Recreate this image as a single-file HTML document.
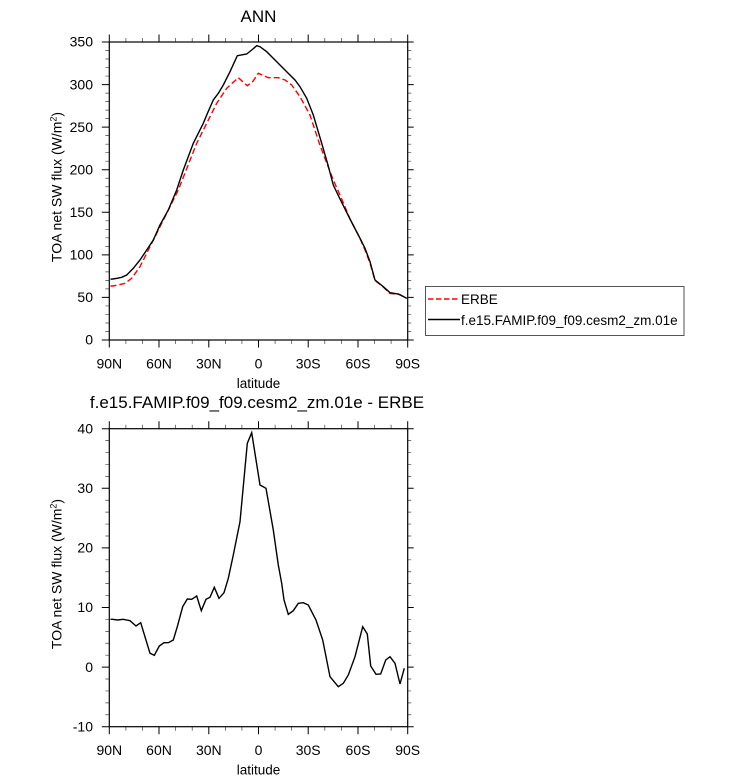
<!DOCTYPE html>
<html><head><meta charset="utf-8"><style>
html,body{margin:0;padding:0;background:#fff;}
svg{display:block;}
text{font-family:"Liberation Sans",Arial,sans-serif;fill:#000;}
</style></head><body>
<svg width="733" height="781" viewBox="0 0 733 781" xmlns="http://www.w3.org/2000/svg">
<rect width="733" height="781" fill="#fff"/>

<!-- ================= TOP PLOT ================= -->
<text x="258.5" y="22" font-size="17" text-anchor="middle">ANN</text>

<!-- x ticks top edge -->
<g transform="translate(0,42)" stroke="#000" fill="none">
<path stroke-width="1" d="M109.3 0v-7.5M159 0v-7.5M208.8 0v-7.5M258.5 0v-7.5M308.2 0v-7.5M358 0v-7.5M407.7 0v-7.5"/>
<path stroke-width="0.7" stroke="#444" d="M125.9 0v-4M142.5 0v-4M175.6 0v-4M192.2 0v-4M225.4 0v-4M241.9 0v-4M275.1 0v-4M291.7 0v-4M324.8 0v-4M341.4 0v-4M374.6 0v-4M391.1 0v-4"/>
</g>
<g transform="translate(0,340)" stroke="#000" fill="none">
<path stroke-width="1" d="M109.3 0v7.5M159 0v7.5M208.8 0v7.5M258.5 0v7.5M308.2 0v7.5M358 0v7.5M407.7 0v7.5"/>
<path stroke-width="0.7" stroke="#444" d="M125.9 0v4M142.5 0v4M175.6 0v4M192.2 0v4M225.4 0v4M241.9 0v4M275.1 0v4M291.7 0v4M324.8 0v4M341.4 0v4M374.6 0v4M391.1 0v4"/>
</g>
<!-- y ticks -->
<g stroke="#000" fill="none">
<path stroke-width="1" d="M109.3 340h-7.5M109.3 297.4h-7.5M109.3 254.9h-7.5M109.3 212.3h-7.5M109.3 169.7h-7.5M109.3 127.1h-7.5M109.3 84.6h-7.5M109.3 42h-7.5
M407.7 340h6M407.7 297.4h6M407.7 254.9h6M407.7 212.3h6M407.7 169.7h6M407.7 127.1h6M407.7 84.6h6M407.7 42h6"/>
<path stroke-width="0.7" stroke="#444" d="M109.3 331.49h-4M109.3 322.97h-4M109.3 314.46h-4M109.3 305.94h-4M109.3 288.91h-4M109.3 280.4h-4M109.3 271.89h-4M109.3 263.37h-4M109.3 246.34h-4M109.3 237.83h-4M109.3 229.31h-4M109.3 220.8h-4M109.3 203.77h-4M109.3 195.26h-4M109.3 186.74h-4M109.3 178.23h-4M109.3 161.2h-4M109.3 152.69h-4M109.3 144.17h-4M109.3 135.66h-4M109.3 118.63h-4M109.3 110.11h-4M109.3 101.6h-4M109.3 93.09h-4M109.3 76.06h-4M109.3 67.54h-4M109.3 59.03h-4M109.3 50.51h-4
M407.7 331.49h3.5M407.7 322.97h3.5M407.7 314.46h3.5M407.7 305.94h3.5M407.7 288.91h3.5M407.7 280.4h3.5M407.7 271.89h3.5M407.7 263.37h3.5M407.7 246.34h3.5M407.7 237.83h3.5M407.7 229.31h3.5M407.7 220.8h3.5M407.7 203.77h3.5M407.7 195.26h3.5M407.7 186.74h3.5M407.7 178.23h3.5M407.7 161.2h3.5M407.7 152.69h3.5M407.7 144.17h3.5M407.7 135.66h3.5M407.7 118.63h3.5M407.7 110.11h3.5M407.7 101.6h3.5M407.7 93.09h3.5M407.7 76.06h3.5M407.7 67.54h3.5M407.7 59.03h3.5M407.7 50.51h3.5"/>
</g>

<!-- curves top -->
<polyline fill="none" stroke="#ff0000" stroke-width="1.4" stroke-dasharray="6,3"
points="110.5,286 112.7,286 118,285 125,283.3 131.7,278.3 140,266.7 150,246.7 160,226.7 170,206.7 178.3,190 186.7,168.7 196.7,143.3 206.7,123.3 216.7,103.3 226.7,88.3 238.3,77.7 247.3,85.7 252.7,81.7 258.3,73.3 268.3,77.7 278.3,77.7 285,80 291.7,85 300,96.7 310,115 319.3,143.3 326.7,163 333.3,180 341.7,199 350,219 360,238.3 365,250 370,263 375,280.5 383.3,287 390,293.5 395,294 400,294.5 406.7,298.5"/>
<polyline fill="none" stroke="#000" stroke-width="1.4"
points="110.5,279.2 112.7,279 117,278.3 121.7,277.3 126.7,275 133.3,268.3 140,260 146.7,250 153.3,240 160,225 168.3,210 176.7,190 183.3,170 193.3,143.3 203.3,123.3 208,112 213.3,100 218.3,93.3 223.3,85 230,71.7 237.3,55.7 246.7,54 251.7,50 256.7,45.7 260,46.7 266.7,51.7 275,60 286.7,71.7 295,80 300,86.7 306.7,98.3 313.3,115 321.7,143.3 328,165 333.3,185 340,199 350,219 360,238.3 365,248.3 370,261.7 375,280 383.3,286.7 390,292.7 398.3,294 406.7,298.3"/>

<!-- frame top -->
<rect x="109.3" y="42" width="298.4" height="298" fill="none" stroke="#000" stroke-width="1.2"/>

<!-- tick labels top -->
<g font-size="14" text-anchor="end">
<text x="93" y="344.7">0</text>
<text x="93" y="302.1">50</text>
<text x="93" y="259.6">100</text>
<text x="93" y="217">150</text>
<text x="93" y="174.4">200</text>
<text x="93" y="131.8">250</text>
<text x="93" y="89.3">300</text>
<text x="93" y="46.7">350</text>
</g>
<g font-size="14" text-anchor="middle">
<text x="109.3" y="368.5">90N</text>
<text x="159" y="368.5">60N</text>
<text x="208.8" y="368.5">30N</text>
<text x="258.5" y="368.5">0</text>
<text x="308.2" y="368.5">30S</text>
<text x="358" y="368.5">60S</text>
<text x="407.7" y="368.5">90S</text>
</g>
<text x="258.5" y="388" font-size="13.5" text-anchor="middle">latitude</text>
<text transform="translate(61.7,187) rotate(-90)" font-size="14" text-anchor="middle">TOA net SW flux (W/m<tspan dy="-5" font-size="9">2</tspan><tspan dy="5">)</tspan></text>

<!-- legend -->
<rect x="425.5" y="286.5" width="258.5" height="49" fill="#fff" stroke="#555" stroke-width="1"/>
<line x1="428" y1="299" x2="460" y2="299" stroke="#ff0000" stroke-width="1.4" stroke-dasharray="5.5,2.5"/>
<line x1="428" y1="319.5" x2="460" y2="319.5" stroke="#000" stroke-width="1.4"/>
<text x="461" y="304" font-size="13.5">ERBE</text>
<text x="461" y="325" font-size="13.5">f.e15.FAMIP.f09_f09.cesm2_zm.01e</text>

<!-- ================= BOTTOM PLOT ================= -->
<text x="257" y="408" font-size="17" text-anchor="middle">f.e15.FAMIP.f09_f09.cesm2_zm.01e - ERBE</text>

<g transform="translate(0,428.7)" stroke="#000" fill="none">
<path stroke-width="1" d="M109.3 0v-7.5M159 0v-7.5M208.8 0v-7.5M258.5 0v-7.5M308.2 0v-7.5M358 0v-7.5M407.7 0v-7.5"/>
<path stroke-width="0.7" stroke="#444" d="M125.9 0v-4M142.5 0v-4M175.6 0v-4M192.2 0v-4M225.4 0v-4M241.9 0v-4M275.1 0v-4M291.7 0v-4M324.8 0v-4M341.4 0v-4M374.6 0v-4M391.1 0v-4"/>
</g>
<g transform="translate(0,726.7)" stroke="#000" fill="none">
<path stroke-width="1" d="M109.3 0v7.5M159 0v7.5M208.8 0v7.5M258.5 0v7.5M308.2 0v7.5M358 0v7.5M407.7 0v7.5"/>
<path stroke-width="0.7" stroke="#444" d="M125.9 0v4M142.5 0v4M175.6 0v4M192.2 0v4M225.4 0v4M241.9 0v4M275.1 0v4M291.7 0v4M324.8 0v4M341.4 0v4M374.6 0v4M391.1 0v4"/>
</g>
<g stroke="#000" fill="none">
<path stroke-width="1" d="M109.3 726.7h-7.5M109.3 667.1h-7.5M109.3 607.5h-7.5M109.3 547.9h-7.5M109.3 488.3h-7.5M109.3 428.7h-7.5
M407.7 726.7h6M407.7 667.1h6M407.7 607.5h6M407.7 547.9h6M407.7 488.3h6M407.7 428.7h6"/>
<path stroke-width="0.7" stroke="#444" d="M109.3 714.78h-4M109.3 702.86h-4M109.3 690.94h-4M109.3 679.02h-4M109.3 655.18h-4M109.3 643.26h-4M109.3 631.34h-4M109.3 619.42h-4M109.3 595.58h-4M109.3 583.66h-4M109.3 571.74h-4M109.3 559.82h-4M109.3 535.98h-4M109.3 524.06h-4M109.3 512.14h-4M109.3 500.22h-4M109.3 476.38h-4M109.3 464.46h-4M109.3 452.54h-4M109.3 440.62h-4
M407.7 714.78h3.5M407.7 702.86h3.5M407.7 690.94h3.5M407.7 679.02h3.5M407.7 655.18h3.5M407.7 643.26h3.5M407.7 631.34h3.5M407.7 619.42h3.5M407.7 595.58h3.5M407.7 583.66h3.5M407.7 571.74h3.5M407.7 559.82h3.5M407.7 535.98h3.5M407.7 524.06h3.5M407.7 512.14h3.5M407.7 500.22h3.5M407.7 476.38h3.5M407.7 464.46h3.5M407.7 452.54h3.5M407.7 440.62h3.5"/>
</g>

<polyline fill="none" stroke="#000" stroke-width="1.4"
points="110.5,619.3 112.7,619.3 117.3,620 123.3,619.3 130,620.7 136,626 140.7,622.7 150,653.3 154.3,655.3 159.3,646 164,642.7 168.3,642.7 173.3,640 177.3,626.7 182.7,606.7 187.3,599 191.7,599.3 196.7,596 201.3,610.7 206,599.3 210,597.3 214.3,587.3 219,598.3 224,592.7 228.3,578.3 233.3,555 240,521.7 247.3,443.3 251.7,432.7 260,485 266,488.3 273.3,530 278.3,565 281.7,583.3 284,600 288.3,614.3 293.3,610.7 298.3,603.3 303.3,602.7 308.3,605 316,620 322.7,640 330,676.7 338.3,686.7 343.3,683.3 348.3,675 355,656.7 362.7,626.7 367.3,634 370.7,666 376,674.3 380.7,674 385.7,660 390,656.7 395,663.3 400,684 404.3,668.3"/>

<rect x="109.3" y="428.7" width="298.4" height="298" fill="none" stroke="#000" stroke-width="1.2"/>

<g font-size="14" text-anchor="end">
<text x="93" y="731.4">-10</text>
<text x="93" y="671.8">0</text>
<text x="93" y="612.2">10</text>
<text x="93" y="552.6">20</text>
<text x="93" y="493">30</text>
<text x="93" y="433.4">40</text>
</g>
<g font-size="14" text-anchor="middle">
<text x="109.3" y="755.2">90N</text>
<text x="159" y="755.2">60N</text>
<text x="208.8" y="755.2">30N</text>
<text x="258.5" y="755.2">0</text>
<text x="308.2" y="755.2">30S</text>
<text x="358" y="755.2">60S</text>
<text x="407.7" y="755.2">90S</text>
</g>
<text x="258.5" y="774.5" font-size="13.5" text-anchor="middle">latitude</text>
<text transform="translate(61.7,574) rotate(-90)" font-size="14" text-anchor="middle">TOA net SW flux (W/m<tspan dy="-5" font-size="9">2</tspan><tspan dy="5">)</tspan></text>
</svg>
</body></html>
